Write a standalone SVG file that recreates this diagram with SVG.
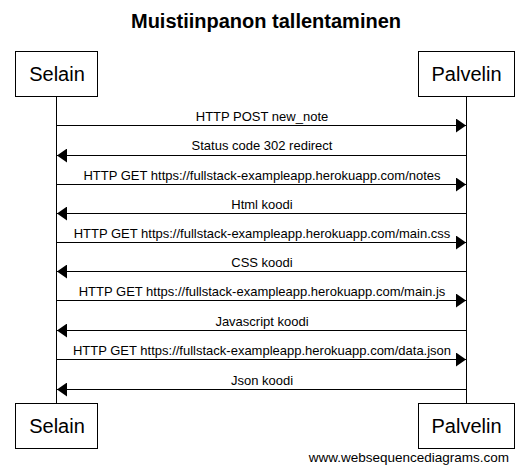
<svg xmlns="http://www.w3.org/2000/svg" width="529" height="472" viewBox="0 0 529 472">
<defs>
<style>
.box{fill:#fff;stroke:#000;stroke-width:1}
.actor{font-family:"Liberation Sans",Arial,sans-serif;font-size:20px;text-anchor:middle;fill:#000}
.msg{font-family:"Liberation Sans",Arial,sans-serif;font-size:13px;text-anchor:middle;fill:#000}
.line{stroke:#000;stroke-width:1;fill:none}
</style>
<marker id="ah" viewBox="0 0 10 14" refX="10" refY="7" markerWidth="10" markerHeight="14" markerUnits="userSpaceOnUse" orient="auto">
<path d="M0,0 L10,7 L0,14 Z" fill="#000"/>
</marker>
</defs>
<rect width="529" height="472" fill="#fff"/>
<text x="266" y="28" font-family="Liberation Sans,Arial,sans-serif" font-size="20" font-weight="bold" text-anchor="middle">Muistiinpanon tallentaminen</text>
<g id="lifelines">
<line class="line" x1="56.5" y1="97" x2="56.5" y2="403"/>
<line class="line" x1="466.5" y1="97" x2="466.5" y2="403"/>
</g>
<g id="selain-top"><rect class="box" x="15.5" y="51.5" width="82" height="45"/><text class="actor" x="57" y="81">Selain</text></g>
<g id="palvelin-top"><rect class="box" x="418.5" y="51.5" width="96" height="45"/><text class="actor" x="466.5" y="81">Palvelin</text></g>
<g id="selain-bottom"><rect class="box" x="15.5" y="403.5" width="82" height="45"/><text class="actor" x="57" y="433">Selain</text></g>
<g id="palvelin-bottom"><rect class="box" x="418.5" y="403.5" width="96" height="45"/><text class="actor" x="466.5" y="433">Palvelin</text></g>
<g id="connectors">
<line class="line" x1="57" y1="125.5" x2="466" y2="125.5" marker-end="url(#ah)"/>
<text class="msg" x="262" y="121">HTTP POST new_note</text>
<line class="line" x1="466" y1="155.5" x2="57" y2="155.5" marker-end="url(#ah)"/>
<text class="msg" x="262" y="150">Status code 302 redirect</text>
<line class="line" x1="57" y1="184.5" x2="466" y2="184.5" marker-end="url(#ah)"/>
<text class="msg" x="262" y="180">HTTP GET https://fullstack-exampleapp.herokuapp.com/notes</text>
<line class="line" x1="466" y1="213.5" x2="57" y2="213.5" marker-end="url(#ah)"/>
<text class="msg" x="262" y="209">Html koodi</text>
<line class="line" x1="57" y1="242.5" x2="466" y2="242.5" marker-end="url(#ah)"/>
<text class="msg" x="262" y="238">HTTP GET https://fullstack-exampleapp.herokuapp.com/main.css</text>
<line class="line" x1="466" y1="271.5" x2="57" y2="271.5" marker-end="url(#ah)"/>
<text class="msg" x="262" y="267">CSS koodi</text>
<line class="line" x1="57" y1="300.5" x2="466" y2="300.5" marker-end="url(#ah)"/>
<text class="msg" x="262" y="296">HTTP GET https://fullstack-exampleapp.herokuapp.com/main.js</text>
<line class="line" x1="466" y1="330.5" x2="57" y2="330.5" marker-end="url(#ah)"/>
<text class="msg" x="262" y="326">Javascript koodi</text>
<line class="line" x1="57" y1="359.5" x2="466" y2="359.5" marker-end="url(#ah)"/>
<text class="msg" x="262" y="355">HTTP GET https://fullstack-exampleapp.herokuapp.com/data.json</text>
<line class="line" x1="466" y1="389.5" x2="57" y2="389.5" marker-end="url(#ah)"/>
<text class="msg" x="262" y="385">Json koodi</text>
</g>
<text x="509" y="462" font-family="Liberation Sans,Arial,sans-serif" font-size="13.5" text-anchor="end">www.websequencediagrams.com</text>
</svg>
